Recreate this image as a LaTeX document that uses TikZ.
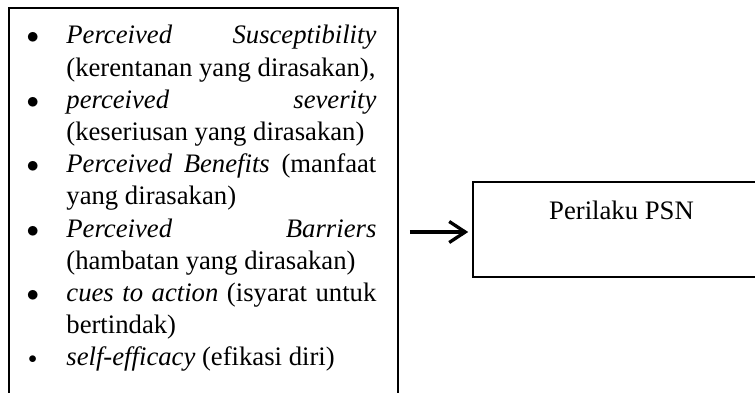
\documentclass[tikz,border=0pt]{standalone}
\usepackage{fontspec}
\setmainfont{Liberation Serif}
\usetikzlibrary{arrows.meta,positioning}

\newcommand{\itembullet}{\leavevmode\llap{$\bullet$\hspace{27.3pt}}}
\newcommand{\smallbullet}{\leavevmode\llap{\raisebox{2pt}{\fontsize{18pt}{18pt}\selectfont$\bullet$}\hspace{29.5pt}}}

\begin{document}
\begin{tikzpicture}[x=1pt,y=-1pt,
		every node/.style={font=\fontsize{26.7pt}{32.2pt}\selectfont},
		factorbox/.style={draw,line width=1.6pt,minimum width=389pt,minimum height=448pt,inner sep=0pt},
		itemtext/.style={text width=310pt,align=justify,inner sep=0pt},
		psnbox/.style={draw,line width=1.6pt,minimum width=297pt,minimum height=95pt,text height=19pt,text depth=40pt},
		flowarrow/.style={line width=3.3pt,-{Straight Barb[length=16pt,width=21pt]},shorten <=11pt,shorten >=4pt}]
		
		\useasboundingbox (0,0) rectangle (755,392);
		\clip (0,0) rectangle (755,392);
		
		% Factors box
		\node[factorbox] (factors) at (203.5,232) {};
		
		%% List of factors
		\node[itemtext,anchor=base west] (items) at ([xshift=58pt,yshift=-36.7pt]factors.north west)
		{\itembullet\textit{Perceived Susceptibility}\linebreak (kerentanan yang dirasakan),\par
			\itembullet\textit{perceived severity}\linebreak (keseriusan yang dirasakan)\par
			\itembullet\textit{Perceived Benefits} (manfaat\linebreak yang dirasakan)\par
			\itembullet\textit{Perceived Barriers}\linebreak (hambatan yang dirasakan)\par
			\itembullet\textit{cues to action} (isyarat untuk\linebreak bertindak)\par
			\smallbullet\textit{self-efficacy} (efikasi diri)};
		
		% Behaviour box
		\node[psnbox,right=73.4pt of factors,yshift=2.5pt] (psn) {Perilaku PSN};
		
		% Arrow
		\draw[flowarrow] (factors.east) -- (factors.east -| psn.west);
		
	\end{tikzpicture}
\end{document}
